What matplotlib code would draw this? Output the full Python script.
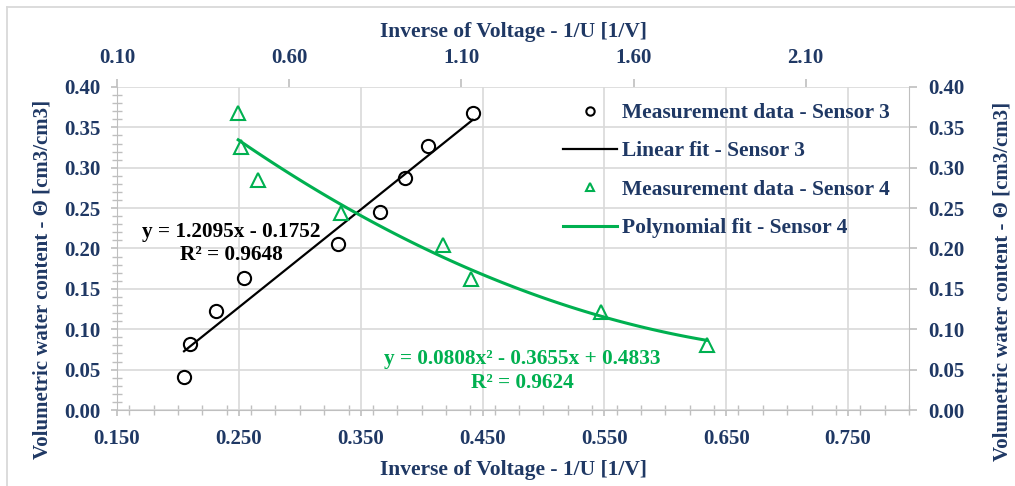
import numpy as np
import matplotlib.pyplot as plt
from matplotlib.ticker import MultipleLocator, FormatStrFormatter
from matplotlib.lines import Line2D

plt.rcParams['font.family'] = ['Liberation Serif', 'DejaVu Serif']
plt.rcParams['font.weight'] = 'bold'

# sensor 3 -> bottom / left axes
s3_x = [0.205, 0.210, 0.231, 0.254, 0.331, 0.366, 0.386, 0.405, 0.442]
s3_y = [0.041, 0.082, 0.123, 0.163, 0.205, 0.245, 0.287, 0.327, 0.368]
s3_fit = [1.2095, -0.1752]
s3_eq = ["y = 1.2095x - 0.1752", "R² = 0.9648"]

# sensor 4 -> top / right axes
s4_x = [0.452, 0.460, 0.510, 0.751, 1.048, 1.129, 1.507, 1.812]
s4_y = [0.368, 0.326, 0.285, 0.244, 0.204, 0.162, 0.121, 0.080]
s4_fit = [0.0808, -0.3655, 0.4833]
s4_eq = ["y = 0.0808x² - 0.3655x + 0.4833", "R² = 0.9624"]

labels = ["Measurement data - Sensor 3", "Linear fit - Sensor 3",
          "Measurement data - Sensor 4", "Polynomial fit - Sensor 4"]
xlabel = "Inverse of Voltage - 1/U [1/V]"
ylabel = "Volumetric water content - Θ [cm3/cm3]"

navy = '#1F3864'
green = '#00B050'
grid = '#D9D9D9'
spine = '#BFBFBF'
fs = 15.5
tick_fs = 15

W, H = 1015, 486
fig = plt.figure(figsize=(W / 100, H / 100), dpi=100)
rect = [117 / W, 1 - 410 / H, (909 - 117) / W, (410 - 87) / H]
ax = fig.add_axes(rect)
ax2 = fig.add_axes(rect, facecolor='none')

# outer chart border (only left and top edges show)
fig.add_artist(Line2D([7 / W, 7 / W], [0, 1 - 7 / H], transform=fig.transFigure, color=grid, lw=1.3))
fig.add_artist(Line2D([7 / W, 1], [1 - 7 / H, 1 - 7 / H], transform=fig.transFigure, color=grid, lw=1.3))

# primary axes
ax.set_xlim(0.15, 0.80)
ax.set_ylim(0.0, 0.40)
ax.set_xticks(np.arange(0.15, 0.76, 0.1))
ax.xaxis.set_minor_locator(MultipleLocator(0.02))
ax.yaxis.set_major_locator(MultipleLocator(0.05))
ax.yaxis.set_minor_locator(MultipleLocator(0.01))
ax.xaxis.set_major_formatter(FormatStrFormatter('%.3f'))
ax.yaxis.set_major_formatter(FormatStrFormatter('%.2f'))
ax.grid(True, which='major', color=grid, lw=1.2)
ax.set_axisbelow(True)
for s in ax.spines.values():
    s.set_color(spine)
ax.spines['top'].set_visible(False)
ax.spines['right'].set_visible(False)
ax.tick_params(which='major', direction='out', length=4, color=spine, width=1.2,
               labelsize=tick_fs, labelcolor=navy, pad=8)
ax.tick_params(which='minor', direction='inout', length=7, color=spine, width=1.0)
ax.tick_params(axis='x', pad=10)

ax.plot(s3_x, s3_y, 'o', ms=9.5, mfc='none', mec='black', mew=1.5, zorder=3)
xf = np.linspace(min(s3_x), max(s3_x), 50)
ax.plot(xf, np.polyval(s3_fit, xf), color='black', lw=1.6, zorder=2)

# secondary axes
ax2.set_xlim(0.10, 2.40)
ax2.set_ylim(0.0, 0.40)
ax2.set_xticks(np.arange(0.1, 2.11, 0.5))
ax2.yaxis.set_major_locator(MultipleLocator(0.05))
ax2.xaxis.set_major_formatter(FormatStrFormatter('%.2f'))
ax2.yaxis.set_major_formatter(FormatStrFormatter('%.2f'))
ax2.xaxis.tick_top()
ax2.yaxis.tick_right()
for k, s in ax2.spines.items():
    s.set_visible(k == 'right')
    s.set_color(spine)
ax2.tick_params(direction='out', length=6, color=spine, width=1.2,
                labelsize=tick_fs, labelcolor=navy, pad=8)

ax2.plot(s4_x, s4_y, '^', ms=10, mfc='none', mec=green, mew=1.5, zorder=3)
xf2 = np.linspace(min(s4_x), max(s4_x), 100)
ax2.plot(xf2, np.polyval(s4_fit, xf2), color=green, lw=2.2, zorder=2)

# trendline equations
fig.text(231 / W, 1 - 243 / H, s3_eq[0] + "\n" + s3_eq[1], ha='center', va='center',
         fontsize=15.3, color='black', linespacing=1.2)
fig.text(522 / W, 1 - 371 / H, s4_eq[0] + "\n" + s4_eq[1], ha='center', va='center',
         fontsize=15.3, color=green, linespacing=1.25)

# axis titles
fig.text(513 / W, 1 - 32 / H, xlabel, ha='center', va='center', fontsize=fs, color=navy)
fig.text(513 / W, 1 - 470 / H, xlabel, ha='center', va='center', fontsize=fs, color=navy)
fig.text(43 / W, 1 - 279 / H, ylabel, ha='center', va='center', rotation=90, fontsize=15, color=navy)
fig.text(1002 / W, 1 - 281 / H, ylabel, ha='center', va='center', rotation=90, fontsize=15, color=navy)

# legend
handles = [Line2D([], [], ls='none', marker='o', ms=6, mfc='none', mec='black', mew=1.5),
           Line2D([], [], color='black', lw=1.6),
           Line2D([], [], ls='none', marker='^', ms=6, mfc='none', mec=green, mew=1.5),
           Line2D([], [], color=green, lw=2.2)]
leg = ax2.legend(handles, labels, loc='upper left', bbox_to_anchor=(563 / W, 1 - 103 / H),
                 bbox_transform=fig.transFigure, frameon=False, fontsize=fs,
                 handlelength=2.5, handletextpad=0.25, labelspacing=0.85,
                 borderpad=0, borderaxespad=0)
for t in leg.get_texts():
    t.set_color(navy)

fig.savefig('out.png', dpi=100)
